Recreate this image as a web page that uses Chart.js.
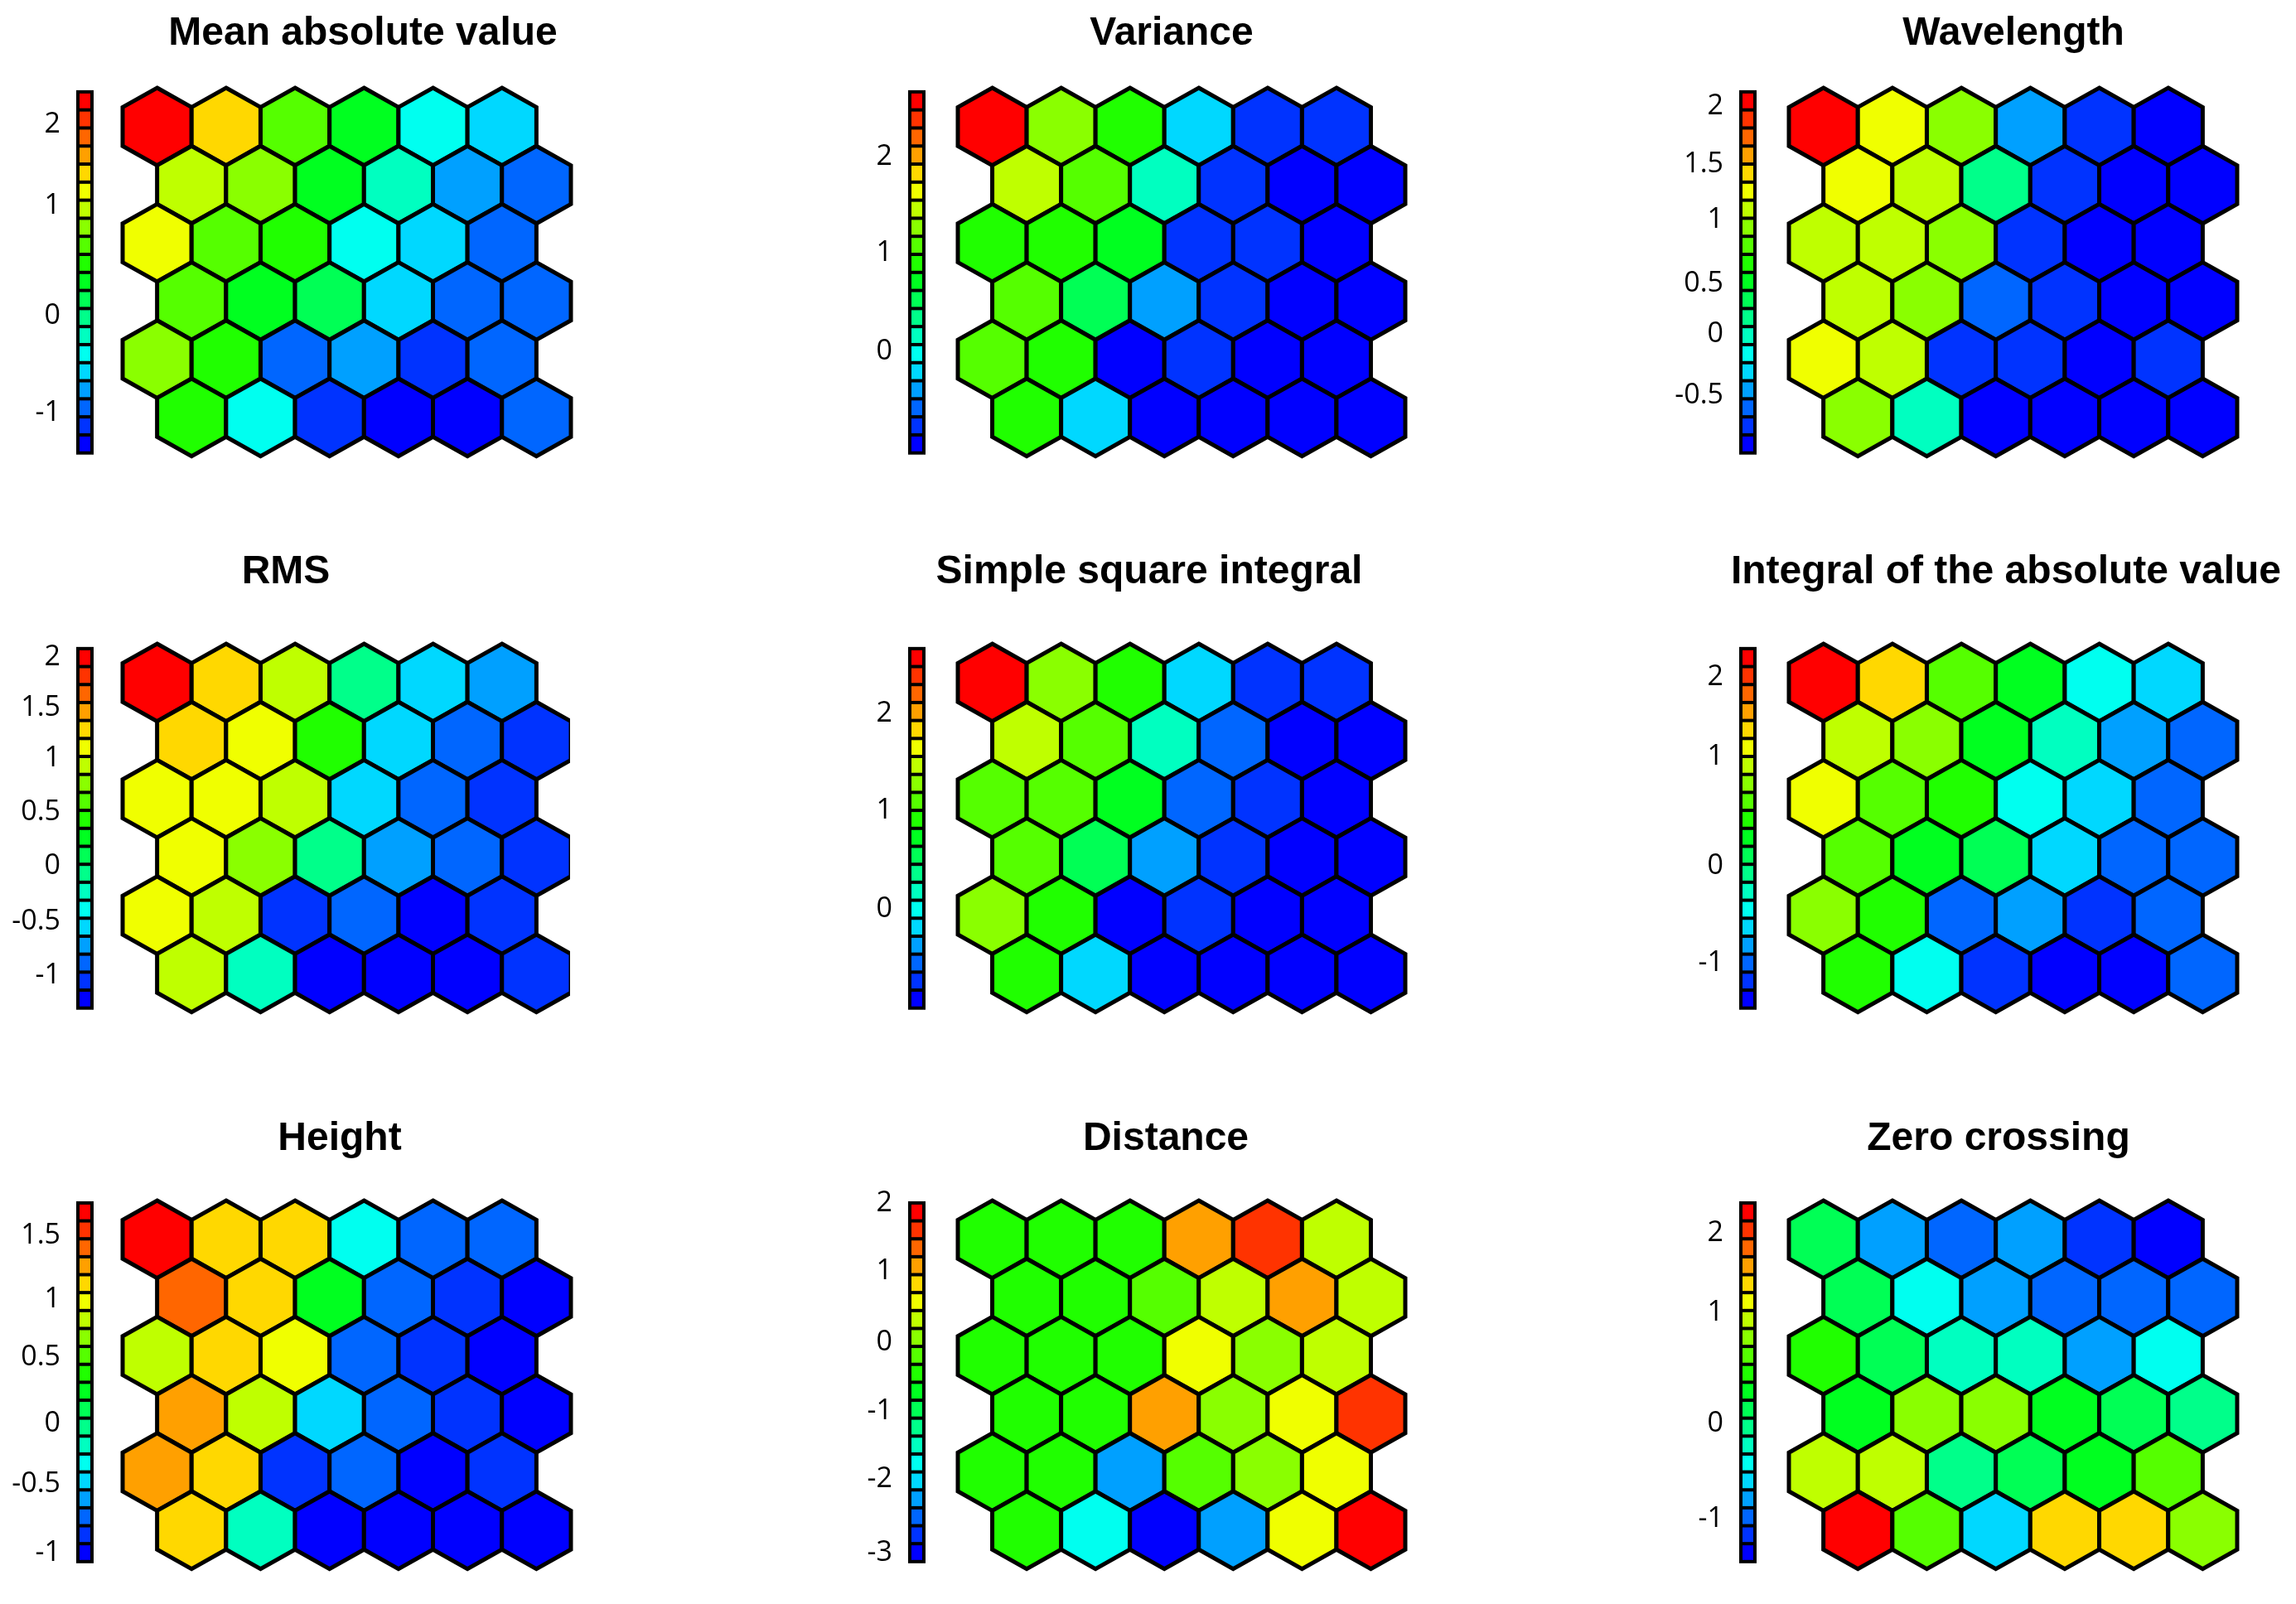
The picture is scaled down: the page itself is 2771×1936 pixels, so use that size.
<!DOCTYPE html>
<html><head><meta charset="utf-8">
<script src="https://cdn.jsdelivr.net/npm/chart.js@4/dist/chart.umd.min.js"></script>
<style>html,body{margin:0;padding:0;background:#fff;width:2771px;height:1936px;overflow:hidden;position:relative}canvas{position:absolute}</style>
</head><body>
<script>
// ---- Data: colour class (1 = lowest/blue ... 20 = highest/red) for each SOM node, rows top to bottom
const titles = ["Mean absolute value","Variance","Wavelength","RMS","Simple square integral","Integral of the absolute value","Height","Distance","Zero crossing"];
const meanAbsValue = [[20,16,12,10,6,5],[14,13,10,7,4,3],[15,12,11,6,5,3],[12,10,9,5,3,3],[13,11,3,4,2,3],[11,6,2,1,1,3]];
const variance = [[20,13,11,5,2,2],[14,12,7,2,1,1],[11,11,10,2,2,1],[12,9,4,2,1,1],[12,11,1,2,1,1],[11,5,1,1,1,1]];
const wavelength = [[20,15,13,4,2,1],[15,14,8,2,1,1],[14,14,13,2,1,1],[14,13,3,2,1,1],[15,14,2,2,1,2],[13,7,1,1,1,1]];
const rms = [[20,16,14,8,5,4],[16,15,11,5,3,2],[15,15,14,5,3,2],[15,13,8,4,3,2],[15,14,2,3,1,2],[14,7,1,1,1,2]];
const simpleSquareIntegral = [[20,13,11,5,2,2],[14,12,7,3,1,1],[12,12,10,3,2,1],[12,9,4,2,1,1],[13,11,1,2,1,1],[11,5,1,1,1,1]];
const integralAbsValue = [[20,16,12,10,6,5],[14,13,10,7,4,3],[15,12,11,6,5,3],[12,10,9,5,3,3],[13,11,3,4,2,3],[11,6,2,1,1,3]];
const height = [[20,16,16,6,3,3],[18,16,10,3,2,1],[14,16,15,3,2,1],[17,14,5,3,2,1],[17,16,2,3,1,2],[16,7,1,1,1,1]];
const distance = [[11,11,11,17,19,14],[11,11,12,14,17,14],[11,11,11,15,13,14],[11,11,17,13,15,19],[11,11,4,12,13,15],[11,6,1,4,15,20]];
const zeroCrossing = [[9,4,3,4,2,1],[9,6,4,3,3,3],[11,9,7,7,4,6],[10,13,13,10,9,8],[14,14,8,9,10,12],[20,12,5,16,16,13]];
const maps = [meanAbsValue,variance,wavelength,rms,simpleSquareIntegral,integralAbsValue,height,distance,zeroCrossing];
// colourbar tick labels and where they sit on the 0..20 colour-class scale
const tickLabels = [["2","1","0","-1"],["2","1","0"],["2","1.5","1","0.5","0","-0.5"],["2","1.5","1","0.5","0","-0.5","-1"],["2","1","0"],["2","1","0","-1"],["1.5","1","0.5","0","-0.5","-1"],["2","1","0","-1","-2","-3"],["2","1","0","-1"]];
const tickPos = [[18.2,13.7,7.6,2.2],[16.4,11.1,5.6],[19.2,16.0,12.9,9.4,6.6,3.2],[19.5,16.7,13.9,10.9,7.9,4.8,1.8],[16.4,11.0,5.5],[18.4,14.0,7.9,2.5],[18.2,14.6,11.4,7.7,4.3,0.5],[20.0,16.2,12.2,8.4,4.6,0.5],[18.3,13.9,7.7,2.4]];
const jet = ["#0000FF","#0033FF","#0066FF","#00A0FF","#00D8FF","#00FFF0","#00FFC0","#00FF8A","#00FF55","#00FF20","#20FF00","#55FF00","#8AFF00","#BFFF00","#F0FF00","#FFD800","#FFA000","#FF6600","#FF3300","#FF0000"];

// ---- Layout (pixels)
const colCb = [92,1096,2099], colHexL = [148,1156,2159], colHexR = [689,1696,2700];
const titleCenter = [438,1414,2430, 345,1387,2421, 410,1407,2412];
const rowTop = [106,777,1449], rowBot = [562,1233,1905], rowCbT = [111,783,1452], rowCbB = [558,1228,1896], rowTitle = [41,691,1375];
const CBW = 21, AXW = 90, TOPH = 110;

const hexPlugin = {
  id:'hex',
  afterDatasetsDraw(chart){
    const c = chart.ctx, xs = chart.scales.x, ys = chart.scales.y, cs = chart.scales.cb;
    const L = chart.chartArea.left, T = cs.getPixelForValue(20), B = cs.getPixelForValue(0);
    c.save();
    c.fillStyle = '#000'; c.fillRect(L, T-2, CBW, B-T+4);
    for(let i=0;i<20;i++){
      const y1 = cs.getPixelForValue(i+1), y0 = cs.getPixelForValue(i);
      c.fillStyle = jet[i]; c.fillRect(L+4, y1+2, CBW-8, (y0-y1)-4);
    }
    c.lineWidth = 5; c.strokeStyle = '#000'; c.lineJoin = 'miter';
    chart.data.datasets[0].data.forEach(p=>{
      const X = v=>xs.getPixelForValue(v), Y = v=>ys.getPixelForValue(v);
      c.beginPath();
      c.moveTo(X(p.x), Y(p.y-2/3));
      c.lineTo(X(p.x+0.5), Y(p.y-1/3));
      c.lineTo(X(p.x+0.5), Y(p.y+1/3));
      c.lineTo(X(p.x), Y(p.y+2/3));
      c.lineTo(X(p.x-0.5), Y(p.y+1/3));
      c.lineTo(X(p.x-0.5), Y(p.y-1/3));
      c.closePath();
      c.fillStyle = jet[p.v-1]; c.fill(); c.stroke();
    });
    c.restore();
  }
};

maps.forEach((m,k)=>{
  const ci = k%3, ri = Math.floor(k/3);
  const cvL = colCb[ci]-AXW;
  const cvR = titleCenter[k]*2 - cvL;
  const W = cvR - cvL;
  const cvT = rowTop[ri]-TOPH, H = TOPH + (rowBot[ri]-rowTop[ri]) + 20;
  const cv = document.createElement('canvas');
  cv.style.left = cvL+'px'; cv.style.top = cvT+'px';
  cv.style.width = W+'px'; cv.style.height = H+'px';
  document.body.appendChild(cv);
  const unit = (colHexR[ci]-colHexL[ci])/6.5;
  const xmin = -0.5 - (colHexL[ci]-colCb[ci])/unit;
  const xmax = 6.0 + (cvR-colHexR[ci])/unit;
  const per = (rowCbB[ri]-rowCbT[ri])/20;
  const cbMin = -(rowBot[ri]-rowCbB[ri])/per, cbMax = 20 + (rowCbT[ri]-rowTop[ri])/per;
  const titleOff = rowTop[ri]-rowTitle[ri];
  const p1 = TOPH - titleOff - 30, p2 = TOPH - 60 - p1;
  const pts = [];
  m.forEach((row,r)=>row.forEach((v,c)=>pts.push({x:c+(r%2)*0.5, y:r, v})));
  const labels = tickLabels[k], pos = tickPos[k];
  new Chart(cv, {
    type:'scatter',
    data:{datasets:[{data:pts, pointRadius:0, pointHoverRadius:0}]},
    plugins:[hexPlugin],
    options:{
      responsive:false, animation:false, devicePixelRatio:1,
      layout:{padding:{left:0, right:0, top:0, bottom:H-TOPH-(rowBot[ri]-rowTop[ri])}},
      events:[],
      plugins:{
        legend:{display:false}, tooltip:{enabled:false},
        title:{display:true, text:titles[k], color:'#000', font:{family:"'Liberation Sans',Arial",weight:'bold',size:48,lineHeight:60/48}, padding:{top:p1,bottom:p2}}
      },
      scales:{
        x:{type:'linear', display:false, min:xmin, max:xmax},
        y:{type:'linear', display:false, min:-2/3, max:5+2/3, reverse:true},
        cb:{type:'linear', position:'left', min:cbMin, max:cbMax,
          grid:{display:false}, border:{display:false},
          afterFit(s){s.width = AXW;},
          afterBuildTicks(s){s.ticks = pos.map(v=>({value:v}));},
          ticks:{color:'#000', padding:11, font:{family:"'Open Sans','DejaVu Sans'",size:34},
            callback:(v)=>{const i = pos.indexOf(v); return i>=0?labels[i]:'';}}
        }
      }
    }
  });
});
</script>
</body></html>
